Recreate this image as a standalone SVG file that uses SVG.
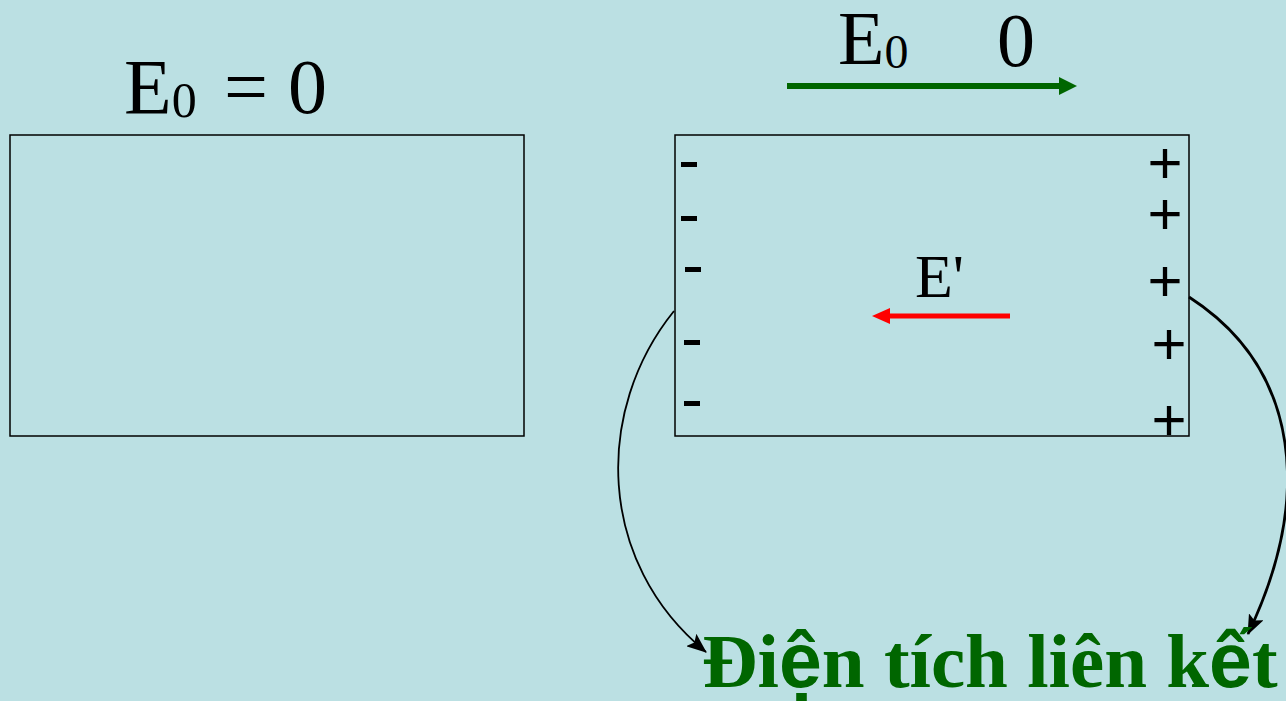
<svg xmlns="http://www.w3.org/2000/svg" width="1286" height="701" viewBox="0 0 1286 701">
<defs>
<style>
.serif{font-family:"Liberation Serif","Times New Roman",serif;fill:#000}
.box{fill:none;stroke:#000;stroke-width:1.5}
.plus{font-family:"Liberation Sans",Arial,sans-serif;font-size:60px;fill:#000}
.lbl{font-family:"Liberation Serif","Times New Roman",serif;font-weight:bold;font-size:77px;fill:#006600}
.lbls{font-family:"Liberation Sans",Arial,sans-serif;font-weight:bold}
</style>
<marker id="blk" markerWidth="20" markerHeight="16" refX="19" refY="8" orient="auto" markerUnits="userSpaceOnUse" viewBox="0 0 20 16">
<path d="M0,0 L20,8 L0,16 L4,8 Z" fill="#000"/>
</marker>
</defs>
<rect width="1286" height="701" fill="#BBE0E3"/>

<g id="left-box">
<rect class="box" x="10" y="135" width="514" height="301"/>
<text class="serif" x="124" y="113" font-size="78">E<tspan font-size="50" dy="4">0</tspan></text>
<text class="serif" x="224" y="113" font-size="78">=</text>
<text class="serif" x="288" y="113" font-size="78">0</text>
</g>

<g id="e0-field">
<line x1="787" y1="86" x2="1060" y2="86" stroke="#006600" stroke-width="6"/>
<polygon points="1077,86 1059,77 1059,95" fill="#006600"/>
<text class="serif" x="838" y="64" font-size="76">E<tspan font-size="48" dy="4">0</tspan></text>
<text class="serif" x="997" y="66" font-size="76">0</text>
</g>

<g id="right-box">
<rect class="box" x="675" y="135" width="514" height="301"/>
<g id="minus-charges">
<rect x="681" y="162" width="16" height="5" fill="#000"/>
<rect x="681" y="216" width="16" height="5" fill="#000"/>
<rect x="685" y="267" width="16" height="5" fill="#000"/>
<rect x="684" y="340" width="16" height="5" fill="#000"/>
<rect x="684" y="401" width="16" height="5" fill="#000"/>
</g>
<g id="plus-charges" class="plus" text-anchor="middle">
<text x="1165" y="183">+</text>
<text x="1165" y="234">+</text>
<text x="1165" y="301">+</text>
<text x="1169" y="364">+</text>
<text x="1169" y="440">+</text>
</g>
</g>

<g id="e-prime">
<line x1="1010" y1="316" x2="888" y2="316" stroke="#FF0000" stroke-width="5"/>
<polygon points="872,316 890,308 890,324" fill="#FF0000"/>
<text class="serif" x="915" y="297" font-size="62">E'</text>
</g>

<g id="connectors" fill="none" stroke="#000">
<path d="M674,311 C594,410 596,562 706,652" stroke-width="1.8" marker-end="url(#blk)"/>
<path d="M1189,297 C1302,370 1312,500 1248,634" stroke-width="2.8" marker-end="url(#blk)"/>
</g>

<g id="label">
<text class="lbl" x="702" y="687">Đi<tspan class="lbls">ệ</tspan>n tích liên k<tspan class="lbls">ế</tspan>t</text>
</g>
</svg>
